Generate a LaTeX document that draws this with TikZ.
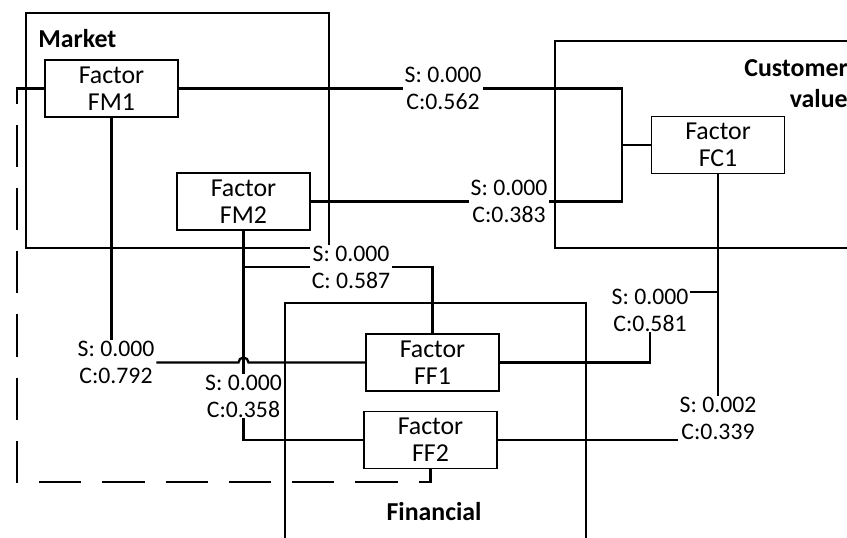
\documentclass[tikz,border=0pt]{standalone}
\usepackage{fontspec}
\setmainfont{Carlito}
\newcommand{\lbfont}{\fontsize{14.7}{15.3}\selectfont}
\newcommand{\scfont}{\fontsize{13.5}{15.3}\selectfont}
\newcommand{\grpfont}{\fontsize{14.7}{18}\selectfont\bfseries}

\begin{document}
\begin{tikzpicture}[x=0.02cm, y=-0.02cm,
    factor/.style={draw, line width=1pt, fill=white, align=center, minimum width=2.66cm, minimum height=1.14cm, inner sep=0pt, font=\lbfont},
    sc/.style={fill=white, align=center, inner xsep=1pt, inner ysep=0.5pt, font=\scfont},
    grp/.style={font=\grpfont, inner sep=0pt},
    link/.style={line width=1.3pt},
    dlink/.style={line width=1.5pt, dash pattern=on 24pt off 12pt},
    group/.style={line width=1pt}]
        \clip (0,0) rectangle (847,537);
        \fill[white] (0,0) rectangle (847,537);
        \draw[group] (26,13) rectangle (329,248);
        \draw[group] (555,41) rectangle (860,248);
        \draw[group] (285,303) rectangle (586,545);
        \node[grp, anchor=base west] (tMarket) at (38,48) {Market};
        \node[grp, align=right, anchor=north east] (tCustomer) at (848,59) {Customer\\value};
        \node[grp, anchor=base] (tFinancial) at (434,520) {Financial};

        \node[factor] (FM1) at (111.5,88.5) {Factor\\FM1};
        \node[factor] (FM2) at (243.5,201.5) {Factor\\FM2};
        \node[factor] (FC1) at (718,145) {Factor\\FC1};
        \node[factor] (FF1) at (432.5,362.5) {Factor\\FF1};
        \node[factor] (FF2) at (430.5,440) {Factor\\FF2};

        \node[sc] (sA) at (443,88.5) {S: 0.000\\C:0.562};
        \node[sc] (sG) at (509,201.5) {S: 0.000\\C:0.383};
        \node[sc] (sC) at (351,267) {S: 0.000\\C: 0.587};
        \node[sc] (sD) at (116,362.5) {S: 0.000\\C:0.792};
        \node[sc] (sB) at (243.5,396) {S: 0.000\\C:0.358};
        \node[sc] (sF) at (650,310) {S: 0.000\\C:0.581};
        \node[sc] (sE) at (718,418) {S: 0.002\\C:0.339};

        \coordinate (jc) at ([xshift=-0.58cm]FC1.west);
        \coordinate (hop) at (FM2.south |- sD.east);
        \coordinate (brF) at (718,292);

        \draw[link] (FM1.east) -- (sA.west);
        \draw[link] (FM2.east) -- (sG.west);
        \draw[link] (sA.east) -| (jc) |- (sG.east);
        \draw[link] (jc) -- (FC1.west);
        \draw[link] (FM2.south) -- (sB.north);
        \draw[link] (FM2.south |- sC.west) -- (sC.west);
        \draw[link] (sC.east) -| (FF1.north);
        \draw[link] (sB.south) |- (FF2.west);
        \draw[link] (FM1.south) -- (FM1.south |- sD.north);
        \draw[link] (sD.east) -- ([xshift=-0.1cm]hop) arc[start angle=180, end angle=0, radius=0.1cm] -- (FF1.west);
        \draw[link] (FC1.south) -- (sE.north);
        \draw[link] (brF) -- (brF -| sF.east);
        \draw[link] (sF.south) |- (FF1.east);
        \draw[link] (FF2.east) -- (FF2.east -| sE.west);
        \draw[dlink] (FM1.west) -| (17,482) -| (FF2.south);
    \end{tikzpicture}
\end{document}
